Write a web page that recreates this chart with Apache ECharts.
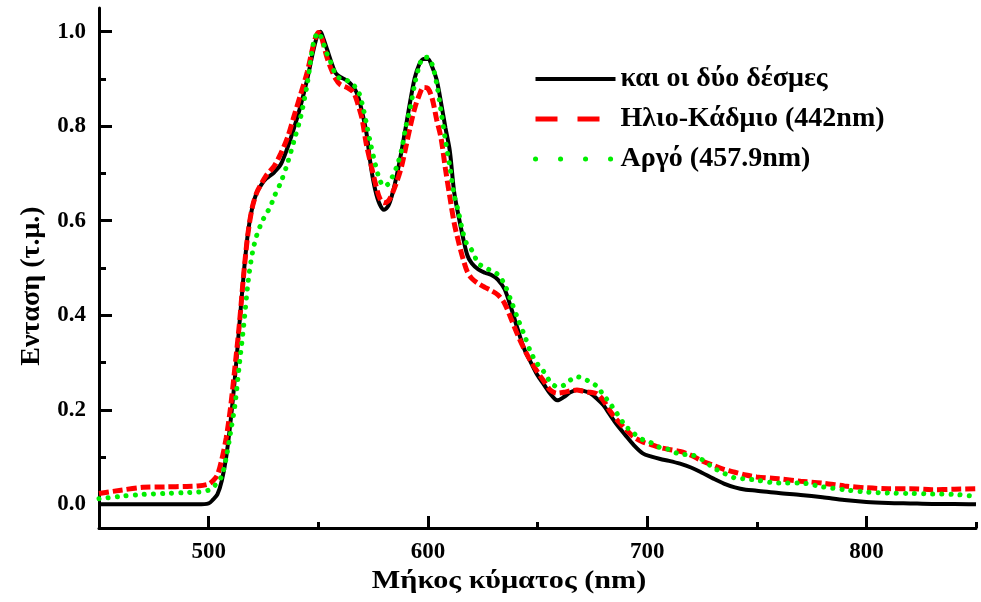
<!DOCTYPE html>
<html>
<head>
<meta charset="utf-8">
<script src="https://cdn.jsdelivr.net/npm/echarts@6/dist/echarts.min.js"></script>
<style>
  html, body { margin: 0; padding: 0; background: #fff; }
  #chart { width: 981px; height: 602px; }
</style>
</head>
<body>
<div id="chart"></div>
<script>
// Wavelength grid (nm) shared by all three spectra
const wavelengths = [
  450, 460, 470, 480, 490, 495, 500, 502, 504, 506, 508, 510, 512, 514, 516, 518, 520, 522, 524, 526,
  528, 530, 533, 536, 539, 542, 545, 548, 550, 551, 552, 554, 556, 558, 560, 563, 566, 568, 570, 572,
  574, 576, 578, 580, 582, 584, 586, 588, 590, 592, 594, 596, 598, 600, 602, 604, 606, 608, 610, 612,
  614, 616, 618, 620, 623, 626, 629, 632, 635, 638, 641, 644, 647, 650, 653, 656, 659, 662, 665, 668,
  671, 674, 677, 680, 683, 686, 690, 694, 698, 702, 706, 710, 715, 720, 725, 730, 735, 740, 745, 750,
  760, 770, 780, 790, 800, 810, 820, 830, 840, 850
];

// Both beams together
const bothBeams = [
  0.000, 0.000, 0.000, 0.000, 0.000, 0.000, 0.002, 0.010, 0.021, 0.050, 0.100, 0.175, 0.268, 0.378, 0.487, 0.577, 0.630, 0.660, 0.676, 0.688,
  0.695, 0.703, 0.720, 0.755, 0.797, 0.844, 0.900, 0.965, 0.997, 1.000, 0.990, 0.963, 0.935, 0.912, 0.904, 0.897, 0.883, 0.865, 0.830, 0.785,
  0.715, 0.665, 0.635, 0.623, 0.632, 0.660, 0.700, 0.748, 0.800, 0.854, 0.902, 0.930, 0.942, 0.942, 0.925, 0.898, 0.850, 0.797, 0.748, 0.660,
  0.610, 0.565, 0.527, 0.510, 0.497, 0.490, 0.485, 0.475, 0.455, 0.415, 0.370, 0.328, 0.300, 0.273, 0.253, 0.233, 0.220, 0.227, 0.237, 0.242,
  0.240, 0.235, 0.224, 0.210, 0.190, 0.170, 0.147, 0.125, 0.108, 0.101, 0.096, 0.092, 0.086, 0.078, 0.067, 0.055, 0.044, 0.036, 0.031, 0.029,
  0.024, 0.020, 0.015, 0.009, 0.005, 0.003, 0.002, 0.001, 0.001, 0.000
];

// Helium-Cadmium laser (442 nm)
const heliumCadmium = [
  0.023, 0.030, 0.036, 0.037, 0.038, 0.039, 0.043, 0.050, 0.062, 0.095, 0.140, 0.205, 0.290, 0.380, 0.487, 0.575, 0.630, 0.660, 0.678, 0.694,
  0.705, 0.716, 0.743, 0.776, 0.822, 0.868, 0.915, 0.975, 0.998, 0.995, 0.980, 0.945, 0.920, 0.900, 0.888, 0.882, 0.872, 0.848, 0.815, 0.760,
  0.720, 0.680, 0.648, 0.638, 0.642, 0.660, 0.685, 0.715, 0.757, 0.800, 0.838, 0.865, 0.882, 0.880, 0.858, 0.814, 0.775, 0.710, 0.651, 0.595,
  0.555, 0.520, 0.492, 0.478, 0.467, 0.459, 0.452, 0.443, 0.425, 0.392, 0.358, 0.328, 0.302, 0.280, 0.260, 0.241, 0.235, 0.237, 0.240, 0.242,
  0.239, 0.237, 0.234, 0.220, 0.198, 0.180, 0.160, 0.142, 0.132, 0.126, 0.120, 0.116, 0.112, 0.104, 0.092, 0.083, 0.074, 0.068, 0.062, 0.058,
  0.054, 0.049, 0.045, 0.039, 0.035, 0.033, 0.033, 0.031, 0.032, 0.033
];

// Argon laser (457.9 nm)
const argon = [
  0.012, 0.017, 0.021, 0.023, 0.025, 0.026, 0.030, 0.036, 0.046, 0.060, 0.098, 0.152, 0.210, 0.295, 0.378, 0.470, 0.533, 0.570, 0.594, 0.613,
  0.628, 0.652, 0.682, 0.722, 0.770, 0.820, 0.890, 0.980, 0.998, 0.992, 0.980, 0.953, 0.932, 0.908, 0.901, 0.897, 0.887, 0.877, 0.848, 0.805,
  0.760, 0.720, 0.687, 0.673, 0.678, 0.695, 0.717, 0.750, 0.800, 0.840, 0.889, 0.926, 0.946, 0.945, 0.930, 0.890, 0.832, 0.770, 0.715, 0.655,
  0.618, 0.575, 0.548, 0.538, 0.510, 0.501, 0.494, 0.486, 0.465, 0.430, 0.393, 0.358, 0.321, 0.297, 0.280, 0.258, 0.249, 0.252, 0.263, 0.270,
  0.266, 0.259, 0.250, 0.232, 0.214, 0.194, 0.167, 0.150, 0.137, 0.130, 0.120, 0.116, 0.106, 0.105, 0.095, 0.078, 0.066, 0.056, 0.054, 0.051,
  0.045, 0.045, 0.037, 0.031, 0.026, 0.024, 0.023, 0.022, 0.021, 0.017
];

const seriesNames = ['και οι δύο δέσμες', 'Ηλιο-Κάδμιο (442nm)', 'Αργό (457.9nm)'];
const xMajorTicks = [500, 600, 700, 800];
const xMinorTicks = [550, 650, 750, 850];
const yMajorTicks = [0, 0.2, 0.4, 0.6, 0.8, 1.0];
const yMinorTicks = [0.1, 0.3, 0.5, 0.7, 0.9];
const xTitle = 'Μήκος κύματος (nm)';
const yTitle = 'Ενταση (τ.μ.)';

const FONT = '"Liberation Serif", "Times New Roman", serif';
const pairs = vals => wavelengths.map((w, i) => [w, vals[i]]);

const W = 981, H = 602;
const X_RANGE = [450, 850];
const Y_RANGE = [-0.05, 1.05];
const PLOT = { left: 99, right: 5, top: 8, bottom: 74 };
const plotW = W - PLOT.left - PLOT.right;
const plotH = H - PLOT.top - PLOT.bottom;
const xPx = v => PLOT.left + (v - X_RANGE[0]) / (X_RANGE[1] - X_RANGE[0]) * plotW;
const yPx = v => PLOT.top + (Y_RANGE[1] - v) / (Y_RANGE[1] - Y_RANGE[0]) * plotH;

const chart = echarts.init(document.getElementById('chart'), null, { renderer: 'canvas' });

const labelStyle = () => ({ color: '#000', fontFamily: FONT, fontWeight: 'bold', fontSize: 23 });
const near = (v, list, eps) => list.some(t => Math.abs(t - v) < eps);

// Grid 0: data, axis lines and labels.
// Grid 1: a rectangle spanning the first..last x major tick, carrying the long x ticks.
// Grid 2: a rectangle spanning the first..last y major tick, carrying the long y ticks.
// Grid 3: same rectangle as grid 0, carrying the short (minor) ticks.
const xStep = xMajorTicks[1] - xMajorTicks[0];
const yStep = yMajorTicks[1] - yMajorTicks[0];
const grids = [
  { left: PLOT.left, right: PLOT.right, top: PLOT.top, bottom: PLOT.bottom },
  { left: xPx(xMajorTicks[0]), right: W - xPx(xMajorTicks[xMajorTicks.length - 1]), top: PLOT.top, bottom: PLOT.bottom },
  { left: PLOT.left, right: PLOT.right, top: yPx(yMajorTicks[yMajorTicks.length - 1]), bottom: H - yPx(yMajorTicks[0]) },
  { left: PLOT.left, right: PLOT.right, top: PLOT.top, bottom: PLOT.bottom }
];

function hiddenAxis(grid) {
  return { type: 'value', gridIndex: grid, show: false, min: 0, max: 1,
    axisLine: { show: false, onZero: false }, splitLine: { show: false } };
}
function intervalTickAxis(grid, pos, lo, hi, step, len) {
  return {
    type: 'value', gridIndex: grid, position: pos, min: lo, max: hi, interval: step,
    axisLine: { show: false, onZero: false },
    axisTick: { show: true, inside: true, length: len, lineStyle: { color: '#000', width: 3 } },
    axisLabel: { show: false },
    splitLine: { show: false }
  };
}
function customTickAxis(grid, pos, range, values, len) {
  return {
    type: 'value', gridIndex: grid, position: pos, min: range[0], max: range[1],
    axisLine: { show: false, onZero: false },
    axisTick: { show: true, inside: true, length: len, customValues: values.slice(),
      lineStyle: { color: '#000', width: 3 } },
    axisLabel: { show: false },
    splitLine: { show: false }
  };
}

chart.setOption({
  animation: false,
  backgroundColor: '#fff',
  grid: grids,
  xAxis: [
    {
      type: 'value', min: X_RANGE[0], max: X_RANGE[1], interval: 50, position: 'bottom', gridIndex: 0,
      axisLine: { show: true, onZero: false, lineStyle: { color: '#000', width: 3 } },
      axisTick: { show: false },
      axisLabel: Object.assign({ margin: 13, showMinLabel: false, showMaxLabel: false,
        formatter: v => near(v, xMajorTicks, 1e-6) ? String(Math.round(v)) : '' }, labelStyle()),
      splitLine: { show: false }
    },
    intervalTickAxis(1, 'bottom', xMajorTicks[0], xMajorTicks[xMajorTicks.length - 1], xStep, 12),
    hiddenAxis(2),
    customTickAxis(3, 'bottom', X_RANGE, xMinorTicks, 6)
  ],
  yAxis: [
    {
      type: 'value', min: Y_RANGE[0], max: Y_RANGE[1], interval: 0.05, position: 'left', gridIndex: 0,
      axisLine: { show: true, onZero: false, lineStyle: { color: '#000', width: 3 } },
      axisTick: { show: false },
      axisLabel: Object.assign({ margin: 13, showMinLabel: false, showMaxLabel: false,
        formatter: v => near(v, yMajorTicks, 1e-6) ? v.toFixed(1) : '' }, labelStyle()),
      splitLine: { show: false }
    },
    hiddenAxis(1),
    intervalTickAxis(2, 'left', yMajorTicks[0], yMajorTicks[yMajorTicks.length - 1], yStep, 13),
    customTickAxis(3, 'left', Y_RANGE, yMinorTicks, 7)
  ],
  legend: {
    orient: 'vertical',
    left: 528, top: 60,
    itemWidth: 80, itemHeight: 14, itemGap: 12,
    itemStyle: { opacity: 0 },
    textStyle: { color: '#000', fontFamily: FONT, fontWeight: 'bold', fontSize: 28, lineHeight: 28 },
    data: [
      { name: seriesNames[0], lineStyle: { width: 4 } },
      { name: seriesNames[1], lineStyle: { type: [22, 20], width: 5 } },
      { name: seriesNames[2], lineStyle: { type: [0.1, 24.9], width: 5, cap: 'round' } }
    ]
  },
  graphic: [
    {
      type: 'text', x: 509, y: 581, scaleX: 1.16,
      style: { text: xTitle, x: 0, y: 0, align: 'center', verticalAlign: 'middle',
        fill: '#000', font: 'bold 26px ' + FONT }
    },
    {
      type: 'text', rotation: Math.PI / 2, x: 32, y: 286,
      style: { text: yTitle, x: 0, y: 0, align: 'center', verticalAlign: 'middle',
        fill: '#000', font: 'bold 28px ' + FONT }
    }
  ],
  series: [
    {
      name: seriesNames[0], type: 'line', data: pairs(bothBeams), symbol: 'none', smooth: 0.3,
      xAxisIndex: 0, yAxisIndex: 0,
      lineStyle: { color: '#000', width: 4 }, itemStyle: { color: '#000' }, z: 2
    },
    {
      name: seriesNames[1], type: 'line', data: pairs(heliumCadmium), symbol: 'none', smooth: 0.3,
      xAxisIndex: 0, yAxisIndex: 0,
      lineStyle: { color: '#ff0000', width: 5, type: [10, 4] }, itemStyle: { color: '#ff0000' }, z: 3
    },
    {
      name: seriesNames[2], type: 'line', data: pairs(argon), symbol: 'none', smooth: 0.3,
      xAxisIndex: 0, yAxisIndex: 0,
      lineStyle: { color: '#00ee00', width: 5, type: [0.1, 9], cap: 'round' }, itemStyle: { color: '#00ee00' }, z: 4
    }
  ]
});
</script>
</body>
</html>
